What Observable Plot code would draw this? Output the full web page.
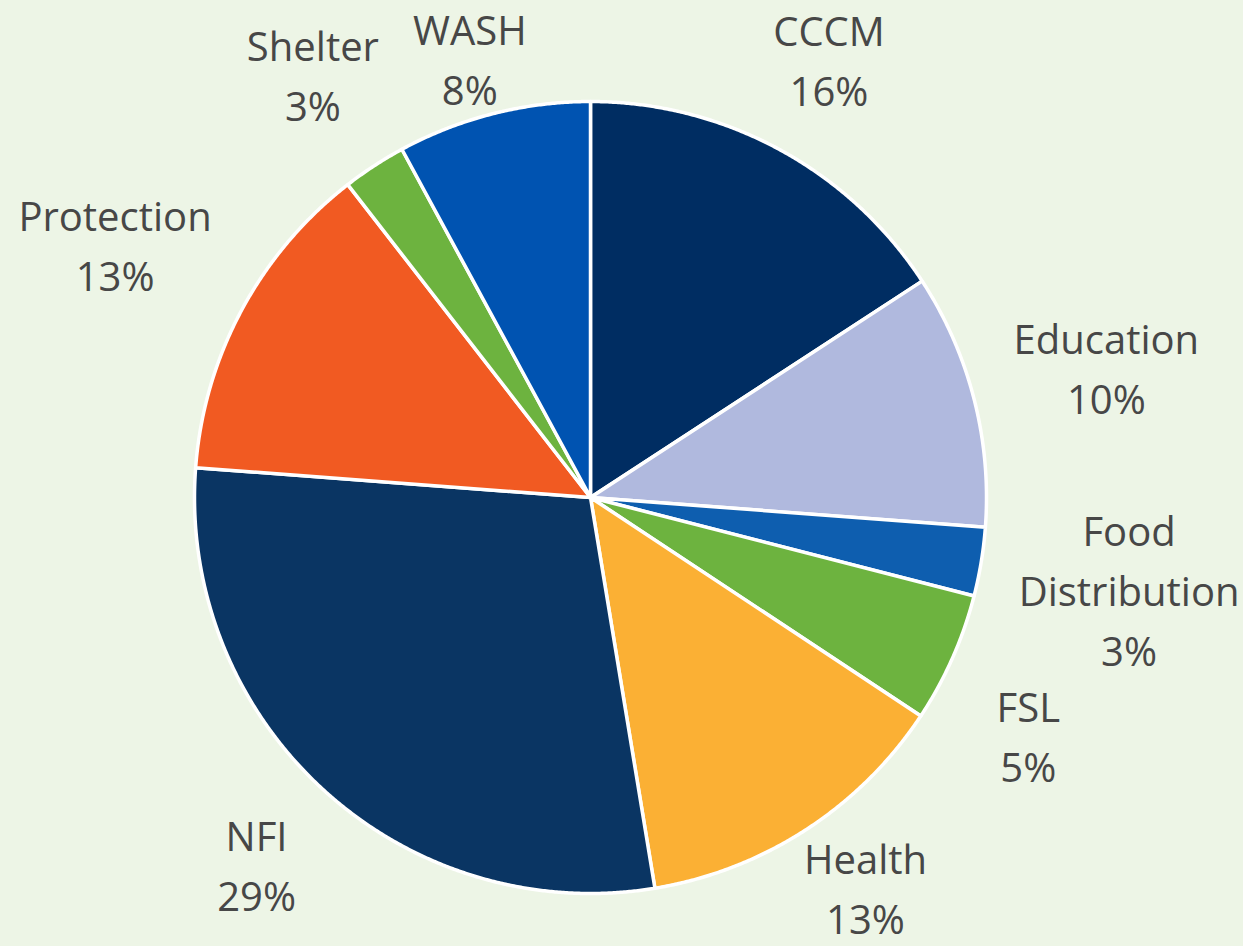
<!DOCTYPE html>
<html><head><meta charset="utf-8">
<script src="https://cdn.jsdelivr.net/npm/d3@7"></script>
<script src="https://cdn.jsdelivr.net/npm/@observablehq/plot@0.6"></script>
<style>html,body{margin:0;padding:0;background:#EDF5E6;} #chart svg{display:block;}</style>
</head><body><div id="chart"></div>
<script>
// ---- data (clockwise from 12 o'clock) ----
const categories = ["CCCM","Education","Food Distribution","FSL","Health","NFI","Protection","Shelter","WASH"];
const shares     = [15.8, 10.4, 2.8, 5.3, 13.1, 28.8, 13.3, 2.6, 7.9];
const colors     = ["#002D62","#B0B9DE","#0E5EAF","#6DB33F","#FBB034","#0A3563","#F15A22","#6DB33F","#0053B1"];

// ---- layout ----
const W = 1243, H = 946;
const cx = 590, cy = 497, R = 396;
const fontSize = 40, lineH = 60, gap = 35, pad = 16;
const fontFamily = "'Open Sans', 'Noto Sans', sans-serif";

const total = d3.sum(shares);
const ctx = document.createElement("canvas").getContext("2d");
ctx.font = `${fontSize}px 'Open Sans'`;

// nearest distance from pie centre to a box centred at (px,py)
function boxDist(px, py, w, h) {
  const dx = Math.max(Math.abs(px) - w / 2, 0), dy = Math.max(Math.abs(py) - h / 2, 0);
  return Math.hypot(dx, dy);
}

const wedgePts = [];
const placed = [];
let cum = 0;
categories.forEach((cat, i) => {
  const a0 = cum / total * 2 * Math.PI;
  cum += shares[i];
  const a1 = cum / total * 2 * Math.PI;
  wedgePts.push({category: cat, x: 0, y: 0});
  const n = Math.max(2, Math.ceil((a1 - a0) / (Math.PI / 720)));
  for (let k = 0; k <= n; k++) {
    const a = a0 + (a1 - a0) * k / n;
    wedgePts.push({category: cat, x: Math.sin(a), y: Math.cos(a)});
  }
  wedgePts.push({category: cat, x: 0, y: 0});

  // label box, placed outside the end of the slice (pixel space, y down)
  const pct = Math.round(shares[i] / total * 100) + "%";
  const nameLines = ctx.measureText(cat).width > 260 ? cat.split(" ") : [cat];
  const lines = [...nameLines, pct];
  const w = d3.max(lines, s => ctx.measureText(s).width);
  const h = (lines.length - 1) * lineH + 40;
  const mid = (a0 + a1) / 2;
  const ux = Math.sin(mid), uy = -Math.cos(mid);
  let lo = 0, hi = 2000;
  for (let it = 0; it < 60; it++) {
    const m = (lo + hi) / 2;
    if (boxDist(ux * m, uy * m, w, h) < R + gap) lo = m; else hi = m;
  }
  let px = cx + ux * lo, py = cy + uy * lo;
  // keep inside chart area
  px = Math.min(Math.max(px, w / 2 + 6), W - w / 2 - 4);
  py = Math.min(Math.max(py, h / 2 + 5), H - h / 2 - 12);
  // avoid overlaps with labels already placed
  for (const b of placed) {
    const ox = Math.min(px + w / 2, b.px + b.w / 2) - Math.max(px - w / 2, b.px - b.w / 2);
    const oy = Math.min(py + h / 2, b.py + b.h / 2) - Math.max(py - h / 2, b.py - b.h / 2);
    if (ox > -pad && oy > -pad) {
      py += (py >= b.py ? 1 : -1) * (oy + pad);
    }
  }
  placed.push({category: cat, text: lines.join("\n"), px, py, w, h});
});

const labels = placed.map(b => ({category: b.category, text: b.text, x: (b.px - cx) / R, y: (cy - b.py) / R}));

const chart = Plot.plot({
  width: W, height: H, margin: 0,
  x: {domain: [-1, 1], range: [cx - R, cx + R], axis: null},
  y: {domain: [-1, 1], range: [cy + R, cy - R], axis: null},
  color: {domain: categories, range: colors},
  style: {background: "#EDF5E6", overflow: "visible"},
  marks: [
    Plot.line(wedgePts, {x: "x", y: "y", z: "category", fill: "category",
      stroke: "white", strokeWidth: 3.5, strokeLinejoin: "round"}),
    Plot.text(labels, {x: "x", y: "y", text: "text", fontSize, fontFamily,
      lineHeight: lineH / fontSize, lineAnchor: "middle", textAnchor: "middle", fill: "#474747"})
  ]
});
document.getElementById("chart").append(chart);
</script>
</body></html>
